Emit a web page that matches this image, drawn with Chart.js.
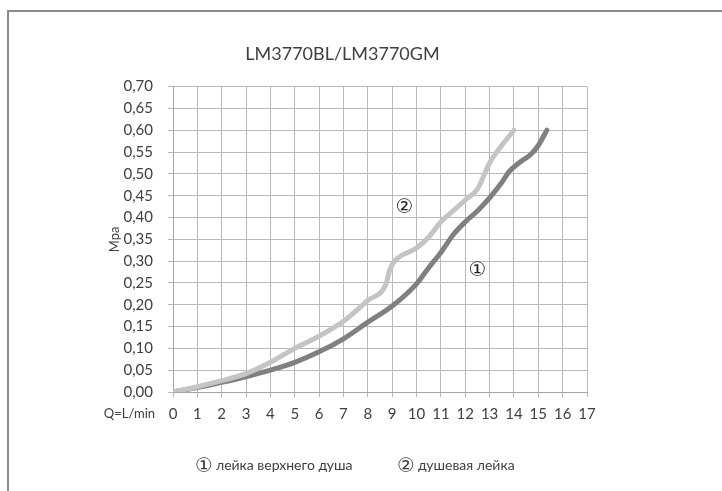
<!DOCTYPE html>
<html lang="ru">
<head>
    <meta charset="UTF-8">
    <title>LM3770BL/LM3770GM</title>
    <script src="https://cdn.jsdelivr.net/npm/chart.js"></script>
    <style>
        body {
            margin: 0;
            background: #fff;
            font-family: Lato, 'DejaVu Sans', sans-serif;
        }
        .wrap {
            position: relative;
            width: 722px;
            height: 491px;
            overflow: hidden;
        }
        .frame {
            position: absolute;
            left: 7px;
            top: 10px;
            width: 730px;
            height: 500px;
            border-top: 2px solid #8c8c8c;
            border-left: 2px solid #8c8c8c;
        }
        canvas {
            position: absolute;
            left: 0;
            top: 0;
        }
        .legend-item {
            position: absolute;
            top: 455px;
            font-size: 14px;
            color: #404040;
            white-space: nowrap;
        }
        .legend-item .num {
            font-family: 'DejaVu Sans', sans-serif;
            font-size: 20px;
            line-height: 20px;
            vertical-align: -2px;
            margin-right: 3px;
        }
    </style>
</head>
<body>
<div class="wrap">
    <div class="frame"></div>
    <canvas id="pressureChart" width="722" height="491"></canvas>
    <div class="legend-item" style="left:195px"><span class="num">①</span>лейка верхнего душа</div>
    <div class="legend-item" style="left:397px"><span class="num">②</span>душевая лейка</div>
</div>
<script>
    // flow rate (L/min) and pressure (MPa)
    const topShowerFlow = [0, 1, 2, 3, 4, 5, 6, 7, 8, 9, 10, 10.5, 11, 11.5, 12, 12.5, 13, 13.5, 13.8, 14.2, 14.7, 15, 15.35];
    const topShowerPressure = [0, 0.01, 0.022, 0.035, 0.05, 0.068, 0.092, 0.122, 0.16, 0.197, 0.248, 0.285, 0.32, 0.36, 0.39, 0.415, 0.445, 0.48, 0.505, 0.525, 0.545, 0.565, 0.60];

    const handShowerFlow = [0, 1, 2, 3, 4, 5, 6, 7, 8, 8.75, 8.9, 9.1, 10, 10.5, 11, 11.5, 12, 12.5, 13, 13.5, 14];
    const handShowerPressure = [0, 0.012, 0.026, 0.042, 0.068, 0.10, 0.128, 0.162, 0.21, 0.248, 0.28, 0.30, 0.33, 0.355, 0.39, 0.415, 0.44, 0.465, 0.525, 0.565, 0.60];

    const seriesNames = ['лейка верхнего душа', 'душевая лейка'];
    const xMax = 17;
    const yMax = 0.70;

    const toPoints = (xs, ys) => xs.map((x, i) => ({ x: x, y: ys[i] }));

    const textColor = '#404040';
    const gridColor = '#b9b9b9';

    // circled numbers next to the curves and the "Q=L/min" caption
    const markLabels = {
        id: 'markLabels',
        afterDatasetsDraw(chart) {
            const { ctx, scales } = chart;
            ctx.save();
            ctx.fillStyle = '#222';
            ctx.font = '20px "DejaVu Sans"';
            ctx.textAlign = 'center';
            ctx.textBaseline = 'middle';
            ctx.fillText('②', scales.x.getPixelForValue(9.5), scales.y.getPixelForValue(0.423));
            ctx.fillText('①', scales.x.getPixelForValue(12.5), scales.y.getPixelForValue(0.277));

            ctx.fillStyle = textColor;
            ctx.font = '13px Lato';
            ctx.textAlign = 'right';
            ctx.fillText('Q=L/min', scales.x.left - 18, scales.x.top + 22);
            ctx.restore();
        }
    };

    new Chart(document.getElementById('pressureChart'), {
        type: 'scatter',
        data: {
            datasets: [{
                label: seriesNames[1],
                data: toPoints(handShowerFlow, handShowerPressure),
                borderColor: '#c4c4c4',
                order: 0
            }, {
                label: seriesNames[0],
                data: toPoints(topShowerFlow, topShowerPressure),
                borderColor: '#808080',
                order: 1
            }]
        },
        options: {
            responsive: false,
            animation: false,
            showLine: true,
            elements: {
                point: { radius: 0 },
                line: {
                    borderWidth: 5,
                    borderCapStyle: 'round',
                    cubicInterpolationMode: 'monotone'
                }
            },
            layout: {
                padding: { left: 98, right: 135, top: 0, bottom: 60 }
            },
            plugins: {
                legend: { display: false },
                tooltip: { enabled: false },
                title: {
                    display: true,
                    text: 'LM3770BL/LM3770GM',
                    color: textColor,
                    font: { family: 'Lato', size: 18, weight: 'normal' },
                    padding: { top: 43, bottom: 22 }
                }
            },
            scales: {
                x: {
                    type: 'linear',
                    min: 0,
                    max: xMax,
                    grid: { color: gridColor, tickLength: 5 },
                    border: { color: '#a6a6a6' },
                    ticks: {
                        stepSize: 1,
                        color: textColor,
                        padding: 8,
                        font: { family: 'Lato', size: 15 }
                    }
                },
                y: {
                    min: 0,
                    max: yMax,
                    afterFit: s => { s.width = 75; },
                    grid: { color: gridColor, tickLength: 5 },
                    border: { color: '#a6a6a6' },
                    title: {
                        display: true,
                        text: 'Mpa',
                        color: textColor,
                        font: { family: 'Lato', size: 13 },
                        padding: { top: 9, bottom: 0 }
                    },
                    ticks: {
                        stepSize: 0.05,
                        color: textColor,
                        padding: 15,
                        font: { family: 'Lato', size: 15 },
                        callback: v => v.toFixed(2).replace('.', ',')
                    }
                }
            }
        },
        plugins: [markLabels]
    });
</script>
</body>
</html>
